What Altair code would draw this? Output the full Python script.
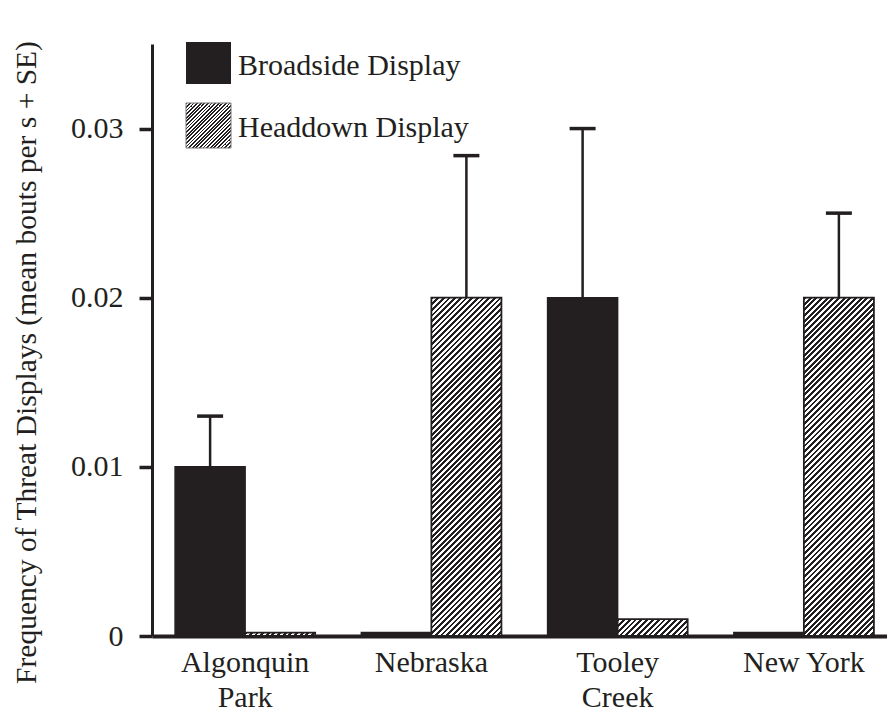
import altair as alt
import pandas as pd

# ---------------- data ----------------
categories = ["Algonquin Park", "Nebraska", "Tooley Creek", "New York"]
label_lines = [["Algonquin", "Park"], ["Nebraska"], ["Tooley", "Creek"], ["New York"]]
series = ["Broadside Display", "Headdown Display"]
broadside = [0.010, 0.0002, 0.020, 0.0002]
broadside_se = [0.003, None, 0.010, None]
headdown = [0.0002, 0.020, 0.001, 0.020]
headdown_se = [None, 0.0084, None, 0.005]
y_ticks = [0, 0.01, 0.02, 0.03]
y_max = 0.035

# ---------------- styling ----------------
INK = "#231f20"
FONT = "Liberation Serif"
PLOT_W, PLOT_H = 735, 592
PAD_L, PAD_T, SVG_H = 144, 36, 710
X_RANGE = 745          # band range runs slightly past the visible edge
P_IN = 0.248
BAR_W = X_RANGE / 4 * (1 - P_IN) / 2

rows = []
for i, c in enumerate(categories):
    for s, vals, ses in [(series[0], broadside, broadside_se), (series[1], headdown, headdown_se)]:
        v = vals[i]
        se = ses[i]
        rows.append({"cat": c, "series": s, "value": v,
                     "upper": (v + se) if se is not None else None})
df = pd.DataFrame(rows)


def hatch(w, h, period):
    n = max(1, round((w + h) / period))
    stops = []
    for i in range(n):
        a, b, c = i / n, (i + 0.5) / n, (i + 1) / n
        stops += [{"offset": a, "color": INK}, {"offset": b, "color": INK},
                  {"offset": b, "color": "white"}, {"offset": c, "color": "white"}]
    k = (w + h) / (w * w + h * h)
    return {"gradient": "linear", "x1": 0, "y1": 0, "x2": k * w, "y2": k * h, "stops": stops}


# label expression for two-line category labels
expr_parts = []
for c, lines in zip(categories, label_lines):
    arr = "[" + ",".join("'" + l + "'" for l in lines) + "]"
    expr_parts.append(f"datum.value == '{c}' ? {arr}")
label_expr = " : ".join(expr_parts) + " : datum.label"

x_enc = alt.X("cat:N", sort=categories, title=None,
              scale=alt.Scale(range=[0, X_RANGE], paddingInner=P_IN, paddingOuter=P_IN / 2),
              axis=alt.Axis(labelAngle=0, ticks=False, labelPadding=11, labelLineHeight=35,
                            labelExpr=label_expr, domainWidth=4, domainColor=INK,
                            labelFontSize=30, labelFont=FONT, labelColor=INK))
xo_enc = alt.XOffset("series:N", scale=alt.Scale(domain=series, paddingInner=0, paddingOuter=0))
y_enc = alt.Y("value:Q", scale=alt.Scale(domain=[0, y_max], nice=False),
              title="Frequency of Threat Displays (mean bouts per s + SE)",
              axis=alt.Axis(values=y_ticks, format=".2~f", grid=False, tickSize=13, tickWidth=3.5,
                            tickColor=INK, domainWidth=3, domainColor=INK, labelPadding=16,
                            labelFontSize=30, labelFont=FONT, labelColor=INK,
                            titleFont=FONT, titleFontSize=29.5, titleFontWeight="normal",
                            titleColor=INK, titleX=-126, titleY=318, titleAngle=270,
                            titleAlign="center", titleBaseline="middle"))

base = alt.Chart(df)

black_bars = base.transform_filter(alt.datum.series == series[0]).mark_bar(
    fill=INK, stroke=INK, strokeWidth=1.5).encode(x=x_enc, xOffset=xo_enc, y=y_enc)

layers = [black_bars]
for c, v in zip(categories, headdown):
    h = v / y_max * PLOT_H
    layers.append(
        base.transform_filter((alt.datum.series == series[1]) & (alt.datum.cat == c)).mark_bar(
            fill=hatch(BAR_W, h, 5.7), stroke=INK, strokeWidth=1.8
        ).encode(x=x_enc, xOffset=xo_enc, y=y_enc)
    )

err = base.transform_filter("isValid(datum.upper)")
layers.append(err.mark_rule(color=INK, strokeWidth=2.5).encode(
    x=x_enc, xOffset=xo_enc, y=y_enc, y2="upper:Q"))
layers.append(err.mark_tick(color=INK, thickness=3.5, size=26, opacity=1).encode(
    x=x_enc, xOffset=xo_enc, y=alt.Y("upper:Q")))

# legend (drawn in the plot area)
leg = pd.DataFrame({"label": series})
layers.append(alt.Chart(leg).transform_filter(alt.datum.label == series[0]).mark_rect(
    fill=INK).encode(x=alt.value(34), x2=alt.value(79), y=alt.value(-2), y2=alt.value(40)))
layers.append(alt.Chart(leg).transform_filter(alt.datum.label == series[1]).mark_rect(
    fill=hatch(45, 45, 3.6), stroke="#777777", strokeWidth=1).encode(
    x=alt.value(34), x2=alt.value(79), y=alt.value(59), y2=alt.value(104)))
layers.append(alt.Chart(leg).transform_filter(alt.datum.label == series[0]).mark_text(
    align="left", baseline="alphabetic", font=FONT, fontSize=30, color=INK).encode(
    x=alt.value(86), y=alt.value(31), text="label:N"))
layers.append(alt.Chart(leg).transform_filter(alt.datum.label == series[1]).mark_text(
    align="left", baseline="alphabetic", font=FONT, fontSize=30, color=INK).encode(
    x=alt.value(86), y=alt.value(93), text="label:N"))

chart = alt.layer(*layers).properties(
    width=PLOT_W, height=PLOT_H,
    autosize=alt.AutoSizeParams(type="none"),
    padding={"left": PAD_L, "top": PAD_T, "right": 0, "bottom": SVG_H - PAD_T - PLOT_H},
    background="white",
).configure_view(stroke=None)

chart.save("out.html", embed_options={"renderer": "svg", "actions": False})
